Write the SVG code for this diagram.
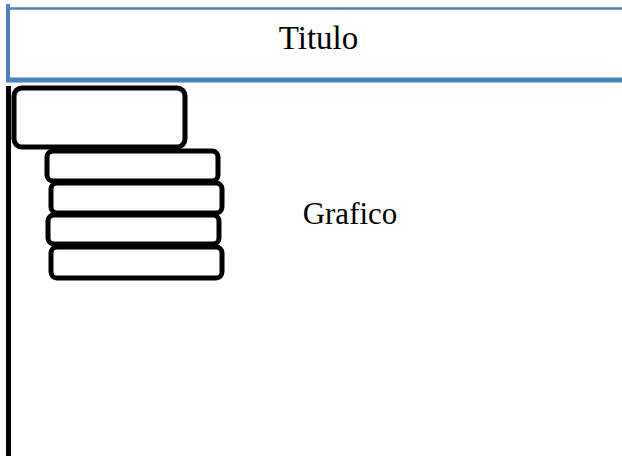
<svg xmlns="http://www.w3.org/2000/svg" width="622" height="456" viewBox="0 0 622 456">
<style>
.box{fill:#fff;stroke:#000;stroke-width:5}
.t{font-family:"Liberation Serif",serif;fill:#000;text-anchor:middle}
</style>
<rect width="622" height="456" fill="#fff"/>
<g id="title">
<line x1="6" y1="8.5" x2="622" y2="8.5" stroke="#4f81bd" stroke-width="2.5"/>
<line x1="6" y1="80" x2="622" y2="80" stroke="#4f81bd" stroke-width="5"/>
<line x1="8" y1="4" x2="8" y2="82" stroke="#4f81bd" stroke-width="4"/>
<text class="t" font-size="33" x="318.5" y="48.5">Titulo</text>
</g>
<g id="axis">
<line x1="8.5" y1="86" x2="8.5" y2="456" stroke="#000" stroke-width="5"/>
</g>
<g id="b1"><rect class="box" x="14" y="88" width="171" height="59" rx="8"/></g>
<g id="b2"><rect class="box" x="47" y="151" width="171" height="30" rx="6"/></g>
<g id="b3"><rect class="box" x="51" y="183" width="171" height="30" rx="6"/></g>
<g id="b4"><rect class="box" x="48" y="215" width="171" height="29" rx="6"/></g>
<g id="b5"><rect class="box" x="51" y="247" width="171" height="31" rx="6"/></g>
<g id="chart"><text class="t" font-size="31" x="350" y="223.5">Grafico</text></g>
</svg>
